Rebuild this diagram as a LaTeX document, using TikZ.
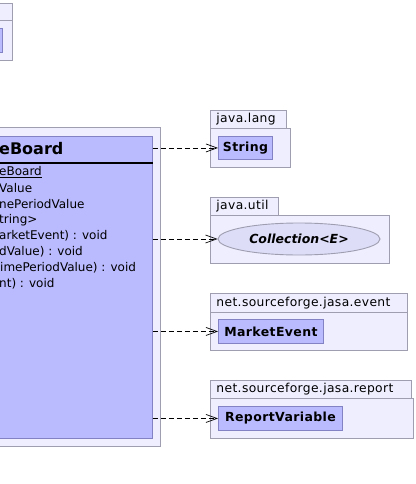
\documentclass[tikz,border=0pt]{standalone}
\usepackage{fontspec}
\setmainfont{DejaVu Sans}
\usepackage{tikz}
\usetikzlibrary{arrows.meta,shapes.geometric}
\definecolor{pkgfill}{RGB}{238,238,255}
\definecolor{pkgline}{RGB}{158,158,176}
\definecolor{clsfill}{RGB}{186,186,255}
\definecolor{clsline}{RGB}{130,130,196}
\definecolor{ifcfill}{RGB}{221,221,248}
\tikzstyle{dep}=[-{Straight Barb[length=11pt,width=8pt]},line width=0.7pt,dash pattern=on 5pt off 3pt]

\begin{document}
\begin{tikzpicture}[x=1pt,y=-1pt,font=\fontsize{12}{14}\selectfont]
  \tikzstyle pkgS=[draw=pkgline,fill=pkgfill,line width=0.9pt,anchor=north west,inner sep=0pt];
  \tikzstyle tabS=[pkgS,inner xsep=6pt,align=left,
    font=\fontsize{12.3}{14}\selectfont\addfontfeatures{LetterSpace=3}];
  \tikzstyle clsS=[draw=clsline,fill=clsfill,line width=0.9pt,anchor=north west,inner sep=0pt,
    font=\fontsize{12.5}{14}\selectfont\bfseries\addfontfeatures{LetterSpace=3}];
  \useasboundingbox (0,0) rectangle (415,484);
  \clip (0,0) rectangle (415,484);
  % package cut off at the top left
  \node[tabS,minimum width=72pt,minimum height=17pt] (tlTab) at (-60,3) {};
  \node[pkgS,minimum width=72pt,minimum height=40pt] (tlPkg) at (-60,20) {};
  \node[clsS,minimum width=62pt,minimum height=24pt] (tlCls) at (-60,28) {};
  % package of the board class
  \node[pkgS,minimum width=260pt,minimum height=319pt] (mainPkg) at (-100,127) {};
  \node[clsS,minimum width=252pt,minimum height=302pt] (board) at (-100,136) {};
  \draw[line width=1.6pt] (board.west |- 0,163) -- (board.east |- 0,163);
  \node[anchor=west,inner sep=0pt,font=\fontsize{16}{18}\selectfont\bfseries]
    (boardName) at (-1,149) {eBoard};
  \foreach \ly/\lx/\ltext in {
    172/-1/\underline{eBoard},
    188/-1/Value,
    204/-1/nePeriodValue,
    220/-1/tring>,
    236/-1/arketEvent) : void,
    252/-1/dValue) : void,
    268/0/imePeriodValue) : void,
    284/-1/nt) : void}
  {
    \node[anchor=west,inner sep=0pt] (ln\ly) at (\lx,\ly) {\ltext};
  }
  % java.lang
  \node[tabS,text width=64pt,minimum height=17.5pt] (langTab) at (210,110) {java.lang};
  \node[pkgS,minimum width=80pt,minimum height=39.5pt] (langPkg) at (210,127.5) {};
  \node[clsS,minimum width=54pt,minimum height=23pt] (str) at (218,136) {String};
  % java.util
  \node[tabS,text width=56pt,minimum height=18pt] (utilTab) at (210,197) {java.util};
  \node[pkgS,minimum width=179pt,minimum height=48pt] (utilPkg) at (210,215) {};
  \node[ellipse,draw=pkgline,fill=ifcfill,line width=0.9pt,minimum width=162pt,minimum height=32pt,
    font=\fontsize{12.5}{14}\selectfont\bfseries\itshape] (coll) at (299,239) {Collection<E>};
  % net.sourceforge.jasa.event
  \node[tabS,text width=185pt,minimum height=19pt] (eventTab) at (210,293) {net.sourceforge.jasa.event};
  \node[pkgS,minimum width=197pt,minimum height=38pt] (eventPkg) at (210,312) {};
  \node[clsS,minimum width=105pt,minimum height=24pt] (mkt) at (218,319) {MarketEvent};
  % net.sourceforge.jasa.report
  \node[tabS,text width=189pt,minimum height=18pt] (reportTab) at (210,380) {net.sourceforge.jasa.report};
  \node[pkgS,minimum width=203pt,minimum height=40pt] (reportPkg) at (210,398) {};
  \node[clsS,minimum width=124pt,minimum height=24pt] (rep) at (218,406) {ReportVariable};
  % dependencies
  \draw[dep] (board.east |- str.west) -- (str.west);
  \draw[dep] (board.east |- coll.west) -- (coll.west);
  \draw[dep] (board.east |- mkt.west) -- (mkt.west);
  \draw[dep] (board.east |- rep.west) -- (rep.west);
\end{tikzpicture}
\end{document}
